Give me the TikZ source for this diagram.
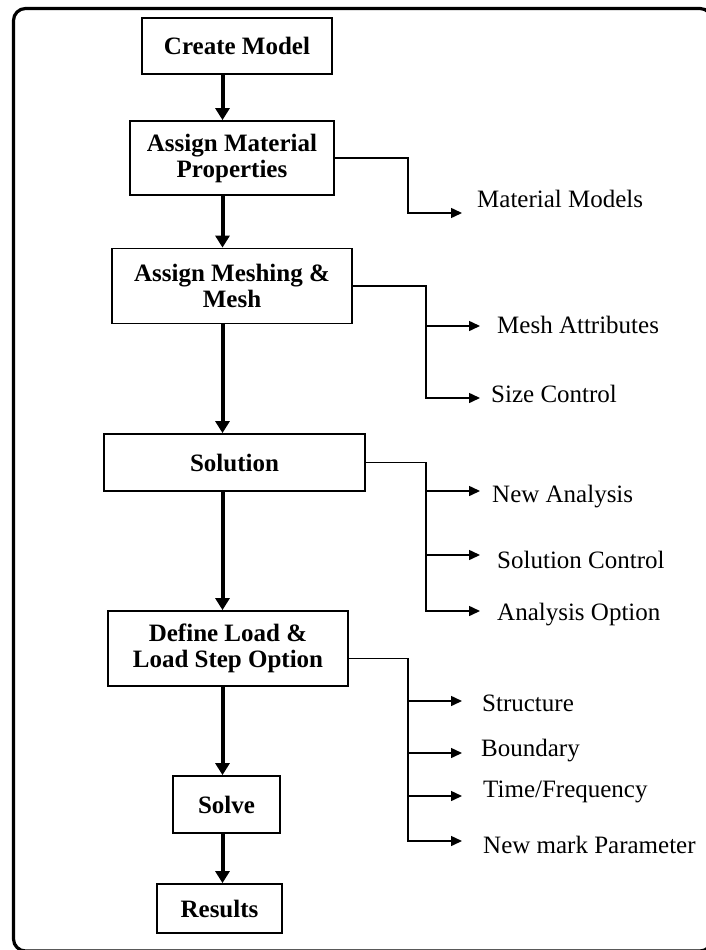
\documentclass[tikz,border=0pt]{standalone}
\usepackage{fontspec}
\setmainfont{Liberation Serif}
\usetikzlibrary{arrows.meta}

\begin{document}
\begin{tikzpicture}[x=1pt,y=-1pt,
  stage/.style={draw, line width=1.8pt, inner sep=0pt, align=center,
    font=\bfseries\fontsize{25}{26}\selectfont},
  flow/.style={line width=4pt, -{Triangle[length=12pt,width=14pt]}},
  tip/.style={line width=1.5pt, line join=miter, -{Triangle[length=11pt,width=10pt]}},
  item/.style={anchor=base west, inner sep=0pt, font=\fontsize{25}{26}\selectfont}]

\useasboundingbox (0,0) rectangle (706,950);

% outer frame
\draw[line width=3.2pt, rounded corners=12pt] (13.5,8.5) rectangle (712,951);

% main column
\coordinate (spine) at (222.5,0);
\node[stage, minimum width=190pt, minimum height=56pt] (cm)    at (237,46)    {Create Model};
\node[stage, minimum width=204pt, minimum height=74pt] (amp)   at (232,158)   {Assign Material\\Properties};
\node[stage, minimum width=240pt, minimum height=75pt] (amm)   at (232,286)   {Assign Meshing \&\\Mesh};
\node[stage, minimum width=261pt, minimum height=57pt] (sol)   at (234.5,462.5) {Solution};
\node[stage, minimum width=240pt, minimum height=75pt] (dl)    at (228,648.5) {Define Load \&\\Load Step Option};
\node[stage, minimum width=107pt, minimum height=57pt] (solve) at (226.5,804.5) {Solve};
\node[stage, minimum width=125pt, minimum height=49pt] (res)   at (219.5,908.5) {Results};

\draw[flow] (cm.south -| spine)    -- (amp.north -| spine);
\draw[flow] (amp.south -| spine)   -- (amm.north -| spine);
\draw[flow] (amm.south -| spine)   -- (sol.north -| spine);
\draw[flow] (sol.south -| spine)   -- (dl.north -| spine);
\draw[flow] (dl.south -| spine)    -- (solve.north -| spine);
\draw[flow] (solve.south -| spine) -- (res.north -| spine);

% option labels
\node[item] (mm)  at (477,207) {Material Models};
\node[item] (ma)  at (497,333) {Mesh Attributes};
\node[item] (sc)  at (491,402) {Size Control};
\node[item] (na)  at (492,502) {New Analysis};
\node[item] (sco) at (497,568) {Solution Control};
\node[item] (ao)  at (497,620) {Analysis Option};
\node[item] (st)  at (482,711) {Structure};
\node[item] (bd)  at (481,756) {Boundary};
\node[item] (tf)  at (483,797) {Time/Frequency};
\node[item] (nm)  at (483,853) {New mark Parameter};

% arrow tips of the option branches
\coordinate (mmTip)  at (462,213);
\coordinate (maTip)  at (480,326);
\coordinate (scTip)  at (480,398);
\coordinate (naTip)  at (480,491);
\coordinate (scoTip) at (480,555);
\coordinate (aoTip)  at (480,611);
\coordinate (stTip)  at (462,701);
\coordinate (bdTip)  at (462,753);
\coordinate (tfTip)  at (462,796);
\coordinate (nmTip)  at (462,841);

% trunks of the branches
\coordinate (mmTrunk)  at (408,0);
\coordinate (ammTrunk) at (426,0);
\coordinate (solTrunk) at (426,0);
\coordinate (dlTrunk)  at (408,0);

\draw[tip] (amp.east) -| (mmTip -| mmTrunk) -- (mmTip);

\draw[tip] (amm.east) -| (scTip -| ammTrunk) -- (scTip);
\draw[tip] (maTip -| ammTrunk) -- (maTip);

\draw[tip] (sol.east) -| (aoTip -| solTrunk) -- (aoTip);
\draw[tip] (naTip -| solTrunk) -- (naTip);
\draw[tip] (scoTip -| solTrunk) -- (scoTip);

\draw[tip] ([yshift=-10pt]dl.east) -| (nmTip -| dlTrunk) -- (nmTip);
\draw[tip] (stTip -| dlTrunk) -- (stTip);
\draw[tip] (bdTip -| dlTrunk) -- (bdTip);
\draw[tip] (tfTip -| dlTrunk) -- (tfTip);

\end{tikzpicture}
\end{document}
